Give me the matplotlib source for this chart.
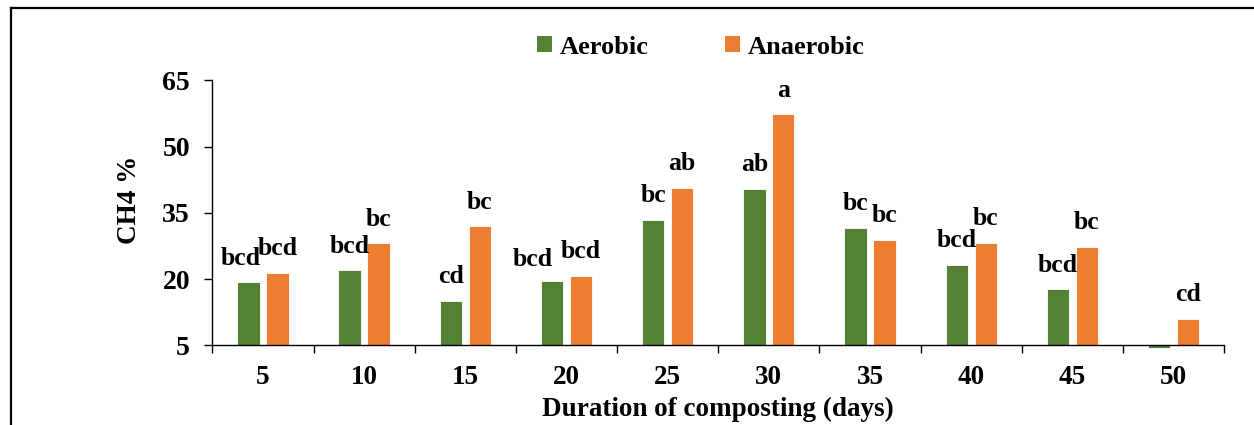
import matplotlib
matplotlib.use("Agg")
import matplotlib.pyplot as plt
import numpy as np
from matplotlib.patches import Patch
from matplotlib.lines import Line2D

days = [5, 10, 15, 20, 25, 30, 35, 40, 45, 50]
aerobic = [19.3, 22.0, 15.1, 19.6, 33.4, 40.5, 31.6, 23.2, 17.7, 4.5]
anaerobic = [21.4, 28.1, 32.0, 20.8, 40.7, 57.3, 28.9, 28.2, 27.3, 11.0]
aerobic_letters = ["bcd", "bcd", "cd", "bcd", "bc", "ab", "bc", "bcd", "bcd", ""]
anaerobic_letters = ["bcd", "bc", "bc", "bcd", "ab", "a", "bc", "bc", "bc", "cd"]
yticks = [5, 20, 35, 50, 65]

GREEN = "#548235"
ORANGE = "#ED7D31"
FONT = "Liberation Serif"
plt.rcParams["font.family"] = [FONT, "DejaVu Serif"]
plt.rcParams["font.weight"] = "bold"

fig = plt.figure(figsize=(12.54, 4.25), dpi=100)
ax = fig.add_axes([0.1693, 0.1875, 0.807, 0.6236])

x = np.arange(len(days))
w = 0.22
off = 0.143
base = 5
ax.bar(x - off, np.array(aerobic) - base, w, bottom=base, color=GREEN,
       edgecolor="white", linewidth=0.6, clip_on=False, zorder=2)
ax.bar(x + off, np.array(anaerobic) - base, w, bottom=base, color=ORANGE,
       edgecolor="white", linewidth=0.6, clip_on=False, zorder=2)

# label nudges (pixels) for crowded labels
nudge_a = {0: (-8, 0), 3: (-19, -3)}
for i, (v, t) in enumerate(zip(aerobic, aerobic_letters)):
    if t:
        dx, dy = nudge_a.get(i, (0, 0))
        ax.annotate(t, (x[i] - off, v), xytext=(dx * 0.72, (17.5 + dy) * 0.72),
                    textcoords="offset points", ha="center", va="baseline",
                    fontsize=18.5, fontweight="bold", annotation_clip=False)
for i, (v, t) in enumerate(zip(anaerobic, anaerobic_letters)):
    if t:
        ax.annotate(t, (x[i] + off, v), xytext=(0, 17.5 * 0.72),
                    textcoords="offset points", ha="center", va="baseline",
                    fontsize=18.5, fontweight="bold", annotation_clip=False)

ax.set_xlim(-0.5, len(days) - 0.5)
ax.set_ylim(5, 65)
ax.set_yticks(yticks)
ax.set_yticklabels([str(v) for v in yticks], fontsize=20, fontweight="bold")
ax.set_xticks(x)
ax.set_xticklabels([str(d) for d in days], fontsize=19.5, fontweight="bold")
ax.set_xticks(np.arange(-0.5, len(days)), minor=True)
ax.tick_params(axis="x", which="major", length=0, pad=14)
ax.tick_params(axis="x", which="minor", length=6, width=1, direction="out")
ax.tick_params(axis="y", length=6, width=1, direction="out", pad=10)
for s in ["top", "right"]:
    ax.spines[s].set_visible(False)
for s in ["left", "bottom"]:
    ax.spines[s].set_linewidth(1.0)
ax.spines["bottom"].set_zorder(3)

fig.text(717.5 / 1254, 1 - 409 / 425, "Duration of composting (days)",
         ha="center", va="center", fontsize=19.5, fontweight="bold")
fig.text(130 / 1254, 1 - 200 / 425, "CH4 %", rotation=90,
         ha="center", va="center", fontsize=19.5, fontweight="bold")

handles = [Patch(facecolor=GREEN, label="Aerobic"),
           Patch(facecolor=ORANGE, label="Anaerobic")]
fig.legend(handles=handles, loc="center", bbox_to_anchor=(701 / 1254, 1 - 47 / 425),
           ncol=2, frameon=False, handlelength=0.55, handleheight=0.55,
           handletextpad=0.3, columnspacing=2.9,
           prop={"family": FONT, "weight": "bold", "size": 19})

# outer frame (left and top edges visible)
fig.add_artist(Line2D([11 / 1254, 11 / 1254], [0, 1 - 8 / 425], color="black", lw=1.6,
                      transform=fig.transFigure))
fig.add_artist(Line2D([11 / 1254, 1], [1 - 8 / 425, 1 - 8 / 425], color="black", lw=1.6,
                      transform=fig.transFigure))

fig.savefig("out.png", dpi=100)
